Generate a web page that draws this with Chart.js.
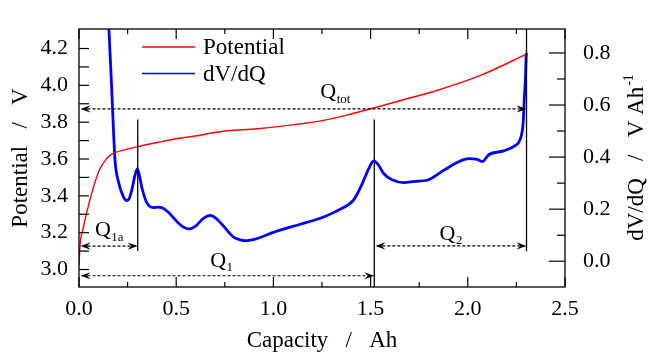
<!DOCTYPE html>
<html>
<head>
<meta charset="utf-8">
<title>Potential and dV/dQ</title>
<script src="https://cdn.jsdelivr.net/npm/chart.js@4.4.0/dist/chart.umd.min.js"></script>
<style>
  html, body { margin: 0; padding: 0; background: #fff; }
  canvas { display: block; }
</style>
</head>
<body>
<canvas id="dvdqChart" width="648" height="353"></canvas>
<script>
// Capacity (Ah) vs. cell potential (V)
const potCapacity = [0.000, 0.005, 0.022, 0.048, 0.074, 0.108, 0.143, 0.160, 0.182, 0.297, 0.408, 0.494,
    0.597, 0.743, 0.915, 1.087, 1.258, 1.395, 1.516, 1.687, 1.807, 2.065, 2.305];
const potVoltage = [3.017, 3.126, 3.227, 3.345, 3.446, 3.547, 3.603, 3.620, 3.633, 3.666, 3.691, 3.709,
    3.725, 3.751, 3.764, 3.784, 3.810, 3.843, 3.877, 3.927, 3.961, 4.054, 4.171];

// Capacity (Ah) vs. differential voltage dV/dQ (V/Ah)
const dvdqCapacity = [0.145, 0.154, 0.170, 0.185, 0.202, 0.228, 0.245, 0.258, 0.271, 0.288, 0.300, 0.312,
    0.323, 0.349, 0.383, 0.405, 0.426, 0.460, 0.511, 0.540, 0.563, 0.600, 0.640, 0.675, 0.705, 0.743,
    0.795, 0.830, 0.855, 0.915, 1.000, 1.087, 1.172, 1.258, 1.344, 1.413, 1.456, 1.490, 1.516, 1.540,
    1.567, 1.610, 1.670, 1.730, 1.790, 1.876, 1.945, 2.005, 2.048, 2.077, 2.095, 2.108, 2.185, 2.245,
    2.268, 2.285, 2.291, 2.297, 2.300, 2.302];
const dvdqValue = [1.000, 0.890, 0.632, 0.391, 0.308, 0.248, 0.233, 0.240, 0.272, 0.330, 0.355, 0.325,
    0.284, 0.224, 0.206, 0.208, 0.206, 0.188, 0.147, 0.130, 0.124, 0.135, 0.165, 0.176, 0.165, 0.135,
    0.093, 0.082, 0.079, 0.087, 0.111, 0.131, 0.149, 0.170, 0.200, 0.236, 0.296, 0.355, 0.385, 0.370,
    0.337, 0.313, 0.302, 0.307, 0.311, 0.349, 0.379, 0.394, 0.391, 0.383, 0.398, 0.409, 0.424, 0.445,
    0.466, 0.534, 0.630, 0.713, 0.785, 0.800];

// Tick labels
const capacityTicks = [0.0, 0.5, 1.0, 1.5, 2.0, 2.5];
const potentialTicks = [3.0, 3.2, 3.4, 3.6, 3.8, 4.0, 4.2];
const dvdqTicks = [0.0, 0.2, 0.4, 0.6, 0.8];

// Capacity boundaries Q1a, Q1, Qtot (Ah)
const qBounds = [0.302, 1.519, 2.302];

const serif = "'Liberation Serif', 'Times New Roman', 'DejaVu Serif', serif";
const tickFont = { family: serif, size: 22, lineHeight: 1 };
const titleFont = { family: serif, size: 23, lineHeight: 1 };

Chart.defaults.font.family = serif;
Chart.defaults.color = '#000';

function pts(xs, ys) {
    return xs.map((x, i) => ({ x: x, y: ys[i] }));
}

function useTicks(values) {
    return function(scale) {
        scale.ticks = values.map(v => ({ value: v }));
    };
}

function line(ctx, x0, y0, x1, y1) {
    ctx.beginPath();
    ctx.moveTo(x0, y0);
    ctx.lineTo(x1, y1);
    ctx.stroke();
}

// stealth arrow head, dir = +1 points right, -1 points left
function arrowHead(ctx, x, y, dir) {
    ctx.beginPath();
    ctx.moveTo(x, y);
    ctx.lineTo(x - dir * 10, y - 3.6);
    ctx.lineTo(x - dir * 6.5, y);
    ctx.lineTo(x - dir * 10, y + 3.6);
    ctx.closePath();
    ctx.fill();
}

function dimArrow(ctx, x0, x1, y) {
    ctx.save();
    ctx.setLineDash([3, 2]);
    ctx.lineWidth = 1.2;
    line(ctx, x0 + 7, y, x1 - 7, y);
    ctx.restore();
    arrowHead(ctx, x0, y, -1);
    arrowHead(ctx, x1, y, 1);
}

function qLabel(ctx, x, y, sub) {
    ctx.textAlign = 'left';
    ctx.textBaseline = 'middle';
    ctx.font = '22px ' + serif;
    ctx.fillText('Q', x, y);
    const w = ctx.measureText('Q').width;
    ctx.font = '13px ' + serif;
    ctx.fillText(sub, x + w + 0.5, y + 7);
}

// frame, inward ticks, Q markers, legend and right axis title
const decorations = {
    id: 'decorations',
    afterDatasetsDraw(chart) {
        const ctx = chart.ctx;
        const { left, right, top, bottom } = chart.chartArea;
        const sx = chart.scales.x, sy = chart.scales.y, sy1 = chart.scales.y1;
        ctx.save();
        ctx.strokeStyle = '#000';
        ctx.fillStyle = '#000';

        // ticks
        ctx.lineWidth = 1.2;
        for (let i = 0; i <= 10; i++) {
            const px = sx.getPixelForValue(i * 0.25);
            const len = i % 2 === 0 ? 10 : 5;
            line(ctx, px, bottom, px, bottom - len);
            line(ctx, px, top, px, top + len);
        }
        for (let i = 30; i <= 42; i++) {
            const py = sy.getPixelForValue(i / 10);
            line(ctx, left, py, left + 10, py);
        }
        for (let i = 0; i <= 8; i++) {
            const py = sy1.getPixelForValue(i / 10);
            line(ctx, right, py, right - (i % 2 === 0 ? 16 : 8), py);
        }

        // frame
        ctx.lineWidth = 1.3;
        ctx.strokeRect(left, top, right - left, bottom - top);

        // Q boundary lines
        const xa = sx.getPixelForValue(qBounds[0]);
        const xb = sx.getPixelForValue(qBounds[1]);
        const xc = sx.getPixelForValue(qBounds[2]);
        ctx.lineWidth = 1.3;
        line(ctx, xa, sy.getPixelForValue(3.10), xa, sy.getPixelForValue(3.815));
        line(ctx, xb, bottom, xb, sy.getPixelForValue(3.815));
        line(ctx, xc, sy.getPixelForValue(3.10), xc, top);

        // dimension arrows
        const x0 = left + 1.5;
        dimArrow(ctx, x0, xc, sy.getPixelForValue(3.872));
        dimArrow(ctx, x0, xa, sy.getPixelForValue(3.127));
        dimArrow(ctx, x0, xb, sy.getPixelForValue(2.966));
        dimArrow(ctx, xb + 1, xc, sy.getPixelForValue(3.128));

        qLabel(ctx, sx.getPixelForValue(1.241), sy.getPixelForValue(3.960), 'tot');
        qLabel(ctx, sx.getPixelForValue(0.082), sy.getPixelForValue(3.212), '1a');
        qLabel(ctx, sx.getPixelForValue(0.675), sy.getPixelForValue(3.047), '1');
        qLabel(ctx, sx.getPixelForValue(1.855), sy.getPixelForValue(3.193), '2');

        // legend
        const rows = [47, 73.5];
        chart.data.datasets.forEach((ds, i) => {
            ctx.strokeStyle = ds.borderColor;
            ctx.lineWidth = 1.5;
            line(ctx, 142, rows[i], 195, rows[i]);
            ctx.fillStyle = '#000';
            ctx.font = '23px ' + serif;
            ctx.textAlign = 'left';
            ctx.textBaseline = 'middle';
            ctx.fillText(ds.label, 203, rows[i] + 1);
        });

        // right axis title, reading bottom to top
        ctx.translate(637, (top + bottom) / 2);
        ctx.rotate(-Math.PI / 2);
        const main = 'dV/dQ   /   V Ah';
        ctx.font = '23px ' + serif;
        const w1 = ctx.measureText(main).width;
        ctx.font = '14px ' + serif;
        const w2 = ctx.measureText('-1').width;
        const start = -(w1 + w2) / 2;
        ctx.textAlign = 'left';
        ctx.textBaseline = 'middle';
        ctx.font = '23px ' + serif;
        ctx.fillText(main, start, 0);
        ctx.font = '14px ' + serif;
        ctx.fillText('-1', start + w1 + 1, -8);
        ctx.restore();
    }
};

const ctx = document.getElementById('dvdqChart').getContext('2d');
const chart = new Chart(ctx, {
    type: 'line',
    data: {
        datasets: [{
            label: 'Potential',
            data: pts(potCapacity, potVoltage),
            borderColor: '#ff0000',
            borderWidth: 1.4,
            pointRadius: 0,
            cubicInterpolationMode: 'monotone',
            yAxisID: 'y'
        }, {
            label: 'dV/dQ',
            data: pts(dvdqCapacity, dvdqValue),
            borderColor: '#0000ff',
            borderWidth: 2.8,
            pointRadius: 0,
            cubicInterpolationMode: 'monotone',
            yAxisID: 'y1'
        }]
    },
    options: {
        responsive: false,
        animation: false,
        layout: { padding: { top: 10, left: 0, right: 0, bottom: 0 } },
        plugins: {
            legend: { display: false },
            tooltip: { enabled: false }
        },
        scales: {
            x: {
                type: 'linear',
                position: 'bottom',
                min: 0,
                max: 2.5,
                grid: { display: false, drawTicks: false },
                border: { display: false },
                afterBuildTicks: useTicks(capacityTicks),
                afterFit: function(scale) { scale.height = 66; },
                ticks: {
                    padding: 11,
                    font: tickFont,
                    maxRotation: 0,
                    autoSkip: false,
                    callback: v => v.toFixed(1)
                },
                title: {
                    display: true,
                    text: 'Capacity   /   Ah',
                    font: titleFont,
                    padding: { top: 0, bottom: 1 }
                }
            },
            y: {
                type: 'linear',
                position: 'left',
                min: 2.905,
                max: 4.306,
                grid: { display: false, drawTicks: false },
                border: { display: false },
                afterBuildTicks: useTicks(potentialTicks),
                afterFit: function(scale) { scale.width = 79; },
                ticks: {
                    padding: 11,
                    font: tickFont,
                    callback: v => v.toFixed(1)
                },
                title: {
                    display: true,
                    text: 'Potential   /   V',
                    font: titleFont,
                    padding: { top: 9, bottom: 0 }
                }
            },
            y1: {
                type: 'linear',
                position: 'right',
                min: -0.099,
                max: 0.892,
                grid: { display: false, drawTicks: false },
                border: { display: false },
                afterBuildTicks: useTicks(dvdqTicks),
                afterFit: function(scale) { scale.width = 83; },
                ticks: {
                    padding: 18,
                    font: tickFont,
                    callback: v => v.toFixed(1)
                }
            }
        }
    },
    plugins: [decorations]
});
</script>
</body>
</html>
